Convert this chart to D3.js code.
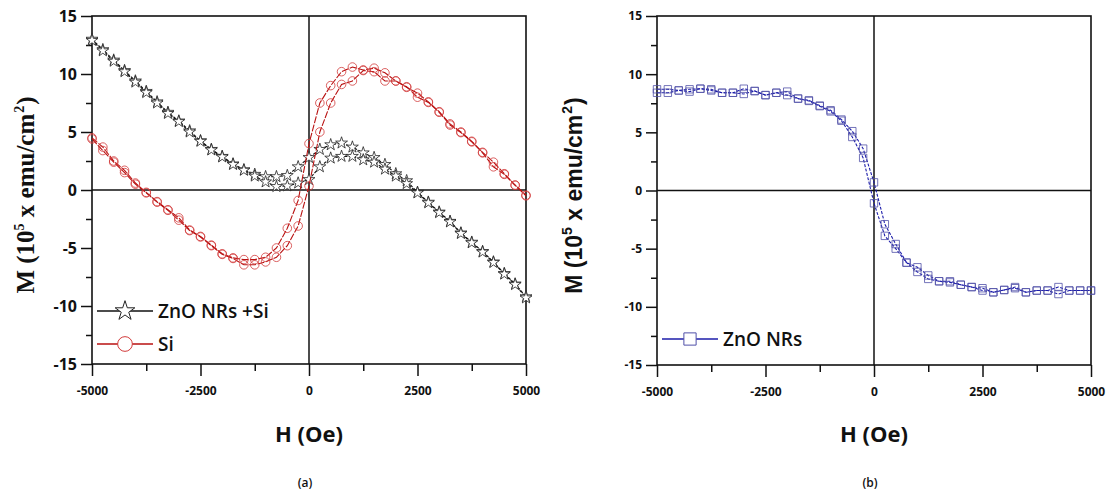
<!DOCTYPE html>
<html>
<head>
<meta charset="utf-8">
<script src="https://cdn.jsdelivr.net/npm/d3@7/dist/d3.min.js"></script>
<style>
  body { margin: 0; background: #fff; }
  svg { display: block; }
</style>
</head>
<body>
<div id="chart"></div>
<script>
// field values (Oe), one per measured point on each branch
const fieldH = [-5000, -4750, -4500, -4250, -4000, -3750, -3500, -3250, -3000, -2750,
  -2500, -2250, -2000, -1750, -1500, -1250, -1000, -750, -500, -250, 0,
  250, 500, 750, 1000, 1250, 1500, 1750, 2000, 2250, 2500, 2750, 3000,
  3250, 3500, 3750, 4000, 4250, 4500, 4750, 5000];

// (a) ZnO NRs + Si, two branches of the loop
const znoSiUpper = [13.0, 12.1, 11.2, 10.3, 9.4, 8.5, 7.6, 6.7, 5.95, 5.1,
  4.25, 3.5, 2.9, 2.25, 1.75, 1.35, 1.15, 1.15, 1.25, 2.0, 2.8,
  3.5, 3.9, 4.05, 3.7, 3.2, 2.8, 2.2, 1.4, 0.8, -0.2, -1.05, -1.9,
  -2.7, -3.7, -4.5, -5.3, -6.2, -7.2, -8.1, -9.2];
const znoSiLower = [12.9, 12.0, 11.1, 10.2, 9.3, 8.4, 7.5, 6.6, 5.9, 5.0,
  4.2, 3.45, 2.85, 2.2, 1.7, 1.2, 0.7, 0.3, 0.35, 0.6, 0.9,
  2.0, 2.75, 2.9, 2.9, 2.6, 2.4, 1.8, 1.2, 0.55, -0.25, -1.1, -1.95,
  -2.75, -3.75, -4.55, -5.35, -6.25, -7.25, -8.15, -9.3];

// (a) Si substrate
const siUpper = [4.5, 3.7, 2.5, 1.7, 0.6, -0.2, -1.0, -1.7, -2.4, -3.45,
  -4.0, -4.75, -5.5, -5.85, -6.0, -6.0, -5.8, -5.0, -3.3, -0.9, 4.0,
  7.5, 9.0, 10.2, 10.6, 10.35, 10.5, 10.1, 9.4, 8.85, 8.35, 7.6, 6.75,
  5.7, 5.0, 4.2, 3.25, 2.4, 1.4, 0.43, -0.45];
const siLower = [4.4, 3.4, 2.4, 1.5, 0.5, -0.25, -1.05, -1.75, -2.6, -3.5,
  -4.05, -4.8, -5.55, -5.9, -6.45, -6.45, -6.2, -5.8, -4.8, -3.1, 0.35,
  5.0, 7.5, 9.1, 9.4, 10.3, 10.2, 9.4, 9.4, 8.9, 8.0, 7.55, 6.7,
  5.6, 4.95, 4.15, 3.2, 2.0, 1.35, 0.4, -0.5];

// (b) ZnO NRs
const znoUpper = [8.7, 8.7, 8.6, 8.5, 8.75, 8.7, 8.4, 8.4, 8.75, 8.55,
  8.2, 8.4, 8.5, 7.9, 7.75, 7.3, 6.9, 6.1, 5.1, 3.6, 0.7,
  -2.9, -4.6, -6.2, -6.6, -7.3, -7.8, -7.8, -8.1, -8.3, -8.4, -8.75, -8.55,
  -8.3, -8.75, -8.6, -8.6, -8.3, -8.6, -8.6, -8.6];
const znoLower = [8.4, 8.4, 8.6, 8.7, 8.75, 8.6, 8.4, 8.4, 8.3, 8.55,
  8.2, 8.4, 8.2, 7.9, 7.7, 7.25, 6.8, 6.0, 4.6, 2.8, -1.1,
  -3.9, -5.0, -6.2, -7.0, -7.6, -7.8, -7.9, -8.1, -8.3, -8.6, -8.75, -8.55,
  -8.4, -8.75, -8.6, -8.6, -8.9, -8.6, -8.6, -8.6];

const yMajor = [-15, -10, -5, 0, 5, 10, 15];
const yMinor = [-12.5, -7.5, -2.5, 2.5, 7.5, 12.5];
const xMajor = [-5000, -2500, 0, 2500, 5000];
const xMinor = [-3750, -1250, 1250, 3750];

const width = 1111, height = 495;
const svg = d3.select('#chart').append('svg')
  .attr('width', width)
  .attr('height', height);

const sansFont = "'Open Sans', 'DejaVu Sans', sans-serif";
const plainNum = d => String(d); // hyphen minus, no thousands comma

function drawPanel(cfg) {
  const x = d3.scaleLinear().domain([-5000, 5000]).range([cfg.left, cfg.right]);
  const y = d3.scaleLinear().domain([-15, 15]).range([cfg.bottom, cfg.top]);
  const g = svg.append('g');

  // minor ticks first
  g.append('g')
    .attr('transform', `translate(${cfg.left},0)`)
    .call(d3.axisLeft(y).tickValues(yMinor).tickSize(6).tickSizeOuter(0).tickFormat(''))
    .call(a => a.select('.domain').remove());
  g.append('g')
    .attr('transform', `translate(0,${cfg.bottom})`)
    .call(d3.axisBottom(x).tickValues(xMinor).tickSize(7).tickSizeOuter(0).tickFormat(''))
    .call(a => a.select('.domain').remove());

  const yAxis = g.append('g')
    .attr('transform', `translate(${cfg.left},0)`)
    .call(d3.axisLeft(y).tickValues(yMajor).tickSize(11).tickSizeOuter(0).tickPadding(4).tickFormat(plainNum));
  yAxis.selectAll('text')
    .attr('font-family', sansFont)
    .attr('font-weight', 'bold')
    .attr('font-size', cfg.yTickSize)
    .attr('fill', '#111');

  const xAxis = g.append('g')
    .attr('transform', `translate(0,${cfg.bottom})`)
    .call(d3.axisBottom(x).tickValues(xMajor).tickSize(12).tickSizeOuter(0).tickPadding(10).tickFormat(plainNum));
  xAxis.selectAll('text')
    .attr('font-family', sansFont)
    .attr('font-weight', 'bold')
    .attr('font-size', 12)
    .attr('fill', '#111');

  g.selectAll('.tick line').attr('stroke', '#111').attr('stroke-width', 1.5);
  g.selectAll('.domain').remove();

  // frame and zero lines
  g.append('rect')
    .attr('x', cfg.left).attr('y', cfg.top)
    .attr('width', cfg.right - cfg.left).attr('height', cfg.bottom - cfg.top)
    .attr('fill', 'none').attr('stroke', '#111').attr('stroke-width', 1.6);
  g.append('line')
    .attr('x1', x(0)).attr('x2', x(0)).attr('y1', cfg.top).attr('y2', cfg.bottom)
    .attr('stroke', '#111').attr('stroke-width', 1.5);
  g.append('line')
    .attr('x1', cfg.left).attr('x2', cfg.right).attr('y1', y(0)).attr('y2', y(0))
    .attr('stroke', '#111').attr('stroke-width', 1.5);

  const line = d3.line().x((d, i) => x(fieldH[i])).y(d => y(d));

  cfg.series.forEach(s => {
    s.branches.forEach(vals => {
      g.append('path')
        .datum(vals)
        .attr('d', line)
        .attr('fill', 'none')
        .attr('stroke', s.line)
        .attr('stroke-width', 1.1)
        .attr('stroke-dasharray', s.dash || null);
    });
    s.branches.forEach(vals => {
      g.append('g').selectAll('path')
        .data(vals)
        .join('path')
        .attr('transform', (d, i) => `translate(${x(fieldH[i])},${y(d)})`)
        .attr('d', d3.symbol(s.symbol, s.size))
        .attr('fill', s.fill)
        .attr('stroke', s.color)
        .attr('stroke-width', 0.8);
    });
  });

  // legend
  cfg.series.forEach((s, i) => {
    const ly = cfg.legendY + i * 33;
    const lg = g.append('g');
    lg.append('line')
      .attr('x1', cfg.left + 5).attr('x2', cfg.left + 61)
      .attr('y1', ly).attr('y2', ly)
      .attr('stroke', s.line).attr('stroke-width', 1.3);
    lg.append('path')
      .attr('transform', `translate(${cfg.left + 33},${ly})`)
      .attr('d', d3.symbol(s.symbol, s.legendSize))
      .attr('fill', '#fff').attr('stroke', s.color).attr('stroke-width', 1);
    lg.append('text')
      .attr('x', cfg.left + 66).attr('y', ly + 7)
      .attr('font-family', sansFont).attr('font-weight', 600)
      .attr('font-size', 19).attr('fill', '#111')
      .text(s.name);
  });

  // axis titles
  const mid = (cfg.left + cfg.right) / 2;
  svg.append('text')
    .attr('x', mid).attr('y', 442)
    .attr('text-anchor', 'middle')
    .attr('font-family', sansFont).attr('font-weight', 'bold')
    .attr('font-size', 22).attr('fill', '#111')
    .text('H (Oe)');
  svg.append('text')
    .attr('x', mid - 4).attr('y', 487)
    .attr('text-anchor', 'middle')
    .attr('font-family', sansFont).attr('font-weight', 600)
    .attr('font-size', 12).attr('fill', '#111')
    .text(cfg.tag);

  const yt = svg.append('text')
    .attr('transform', `translate(${cfg.yTitleX},${(cfg.top + cfg.bottom) / 2 + 5}) rotate(-90)`)
    .attr('text-anchor', 'middle')
    .attr('font-family', cfg.yTitleFont).attr('font-weight', 'bold')
    .attr('font-size', cfg.yTitleSize).attr('fill', '#111');
  yt.append('tspan').text('M (10');
  yt.append('tspan').attr('dy', -10).attr('font-size', 14).text('5');
  yt.append('tspan').attr('dy', 10).text(' x emu/cm');
  yt.append('tspan').attr('dy', -10).attr('dx', 1).attr('font-size', 14).text('2');
  yt.append('tspan').attr('dy', 10).attr('dx', 1).text(')');
}

drawPanel({
  left: 92, right: 526, top: 16, bottom: 364,
  yTickSize: 16, tag: '(a)',
  yTitleX: 34, yTitleSize: 25, yTitleFont: "'Liberation Serif', 'DejaVu Serif', serif",
  legendY: 311,
  series: [
    { name: 'ZnO NRs +Si', branches: [znoSiUpper, znoSiLower], symbol: d3.symbolStar,
      size: 44, legendSize: 120, color: '#222', line: '#111', dash: '3,1.5', fill: '#fff' },
    { name: 'Si', branches: [siUpper, siLower], symbol: d3.symbolCircle,
      size: 58, legendSize: 170, color: '#d23a3a', line: '#b81010', dash: '7,1.5', fill: 'none' }
  ]
});

drawPanel({
  left: 657, right: 1091, top: 16, bottom: 365,
  yTickSize: 12, tag: '(b)',
  yTitleX: 582, yTitleSize: 23, yTitleFont: "'Liberation Sans', Arial, sans-serif",
  legendY: 339,
  series: [
    { name: 'ZnO NRs', branches: [znoUpper, znoLower], symbol: d3.symbolSquare,
      size: 55, legendSize: 150, color: '#5050a8', line: '#1c1caa', dash: '3,1.5', fill: 'none' }
  ]
});
</script>
</body>
</html>
